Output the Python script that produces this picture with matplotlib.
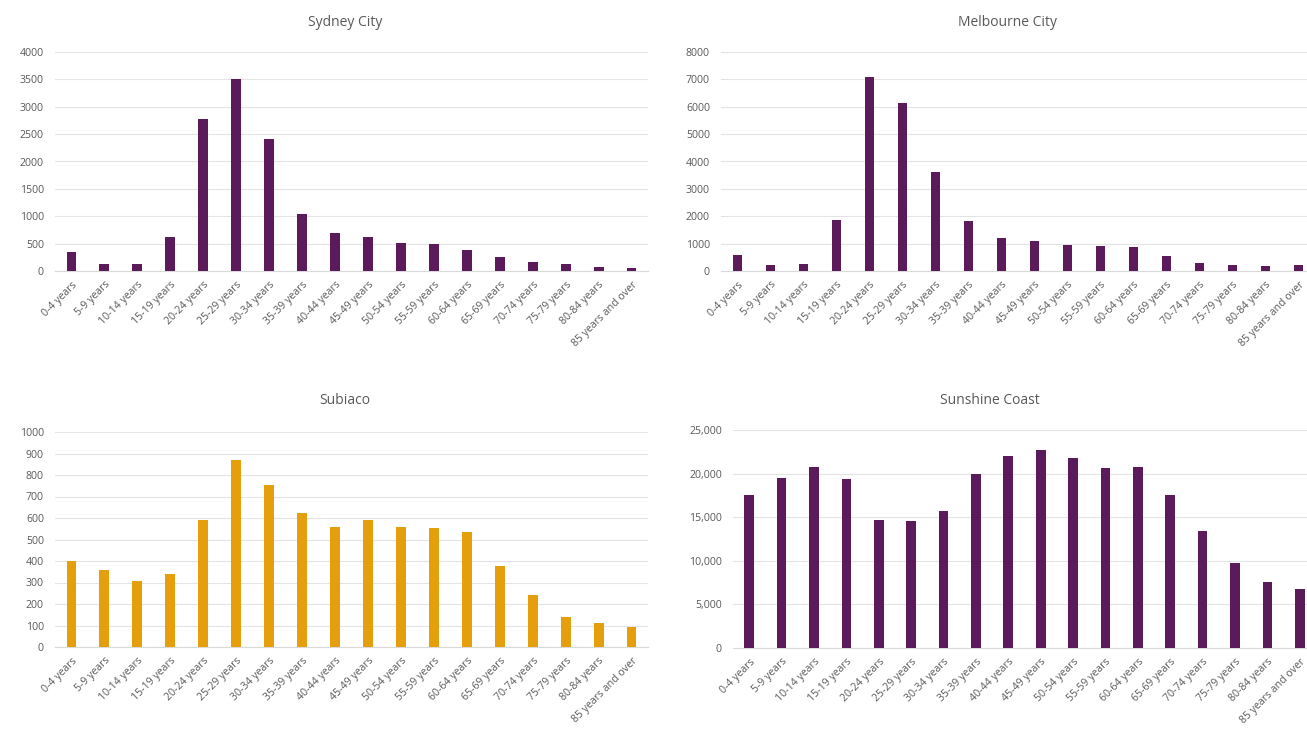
import matplotlib
matplotlib.use("Agg")
from matplotlib import pyplot as plt
from matplotlib.ticker import FuncFormatter
import numpy as np

plt.rcParams['font.family'] = ['Open Sans', 'DejaVu Sans']

age_groups = ["0-4 years", "5-9 years", "10-14 years", "15-19 years", "20-24 years",
              "25-29 years", "30-34 years", "35-39 years", "40-44 years", "45-49 years",
              "50-54 years", "55-59 years", "60-64 years", "65-69 years", "70-74 years",
              "75-79 years", "80-84 years", "85 years and over"]

sydney = [350, 120, 130, 630, 2770, 3500, 2420, 1040, 690, 630, 510, 490, 380, 250, 170, 120, 80, 60]
melbourne = [600, 230, 270, 1850, 7100, 6150, 3620, 1820, 1200, 1080, 940, 900, 860, 560, 300, 230, 170, 230]
subiaco = [400, 360, 305, 340, 590, 870, 755, 625, 560, 590, 560, 555, 535, 375, 240, 140, 110, 95]
sunshine = [17600, 19500, 20700, 19400, 14700, 14600, 15700, 19900, 22000, 22700,
            21800, 20600, 20800, 17500, 13400, 9800, 7600, 6800]

PURPLE = "#5b1a5a"
ORANGE = "#e59e0c"
TEXT = "#595959"

W, H = 1307, 740
fig = plt.figure(figsize=(W / 100, H / 100), dpi=100)


def px_axes(left, top, right, bottom):
    # pixel box -> figure fraction
    return fig.add_axes([left / W, 1 - bottom / H, (right - left) / W, (bottom - top) / H])


def draw(ax, values, color, ymax, step, title, tx, ty, comma=False):
    x = np.arange(len(values))
    ax.bar(x, values, width=0.3, color=color, zorder=3)
    ax.set_xlim(-0.5, len(values) - 0.5)
    ax.set_ylim(0, ymax)
    ax.set_yticks(np.arange(0, ymax + 1, step))
    if comma:
        ax.yaxis.set_major_formatter(FuncFormatter(lambda v, p: f"{int(v):,}"))
    ax.set_xticks(x)
    ax.set_xticklabels(age_groups, rotation=45, ha="right", rotation_mode="anchor")
    ax.tick_params(axis="x", length=0, labelsize=7.6, colors=TEXT, pad=6)
    ax.tick_params(axis="y", length=0, labelsize=7.6, colors=TEXT, pad=8)
    ax.grid(axis="y", color="#e3e3e3", linewidth=0.8, zorder=0)
    for s in ["top", "right", "left"]:
        ax.spines[s].set_visible(False)
    ax.spines["bottom"].set_color("#d9d9d9")
    ax.spines["bottom"].set_linewidth(0.8)
    fig.text(tx / W, 1 - ty / H, title, ha="center", va="center", fontsize=10, color=TEXT)


ax1 = px_axes(55, 52, 648, 271)
draw(ax1, sydney, PURPLE, 4000, 500, "Sydney City", 345, 22)

ax2 = px_axes(721, 52, 1315, 271)
draw(ax2, melbourne, PURPLE, 8000, 1000, "Melbourne City", 1007, 22)

ax3 = px_axes(55, 432, 648, 647)
draw(ax3, subiaco, ORANGE, 1000, 100, "Subiaco", 345, 401)

ax4 = px_axes(733, 430, 1316, 648)
draw(ax4, sunshine, PURPLE, 25000, 5000, "Sunshine Coast", 990, 400, comma=True)

plt.savefig("out.png", dpi=100, facecolor="white")
